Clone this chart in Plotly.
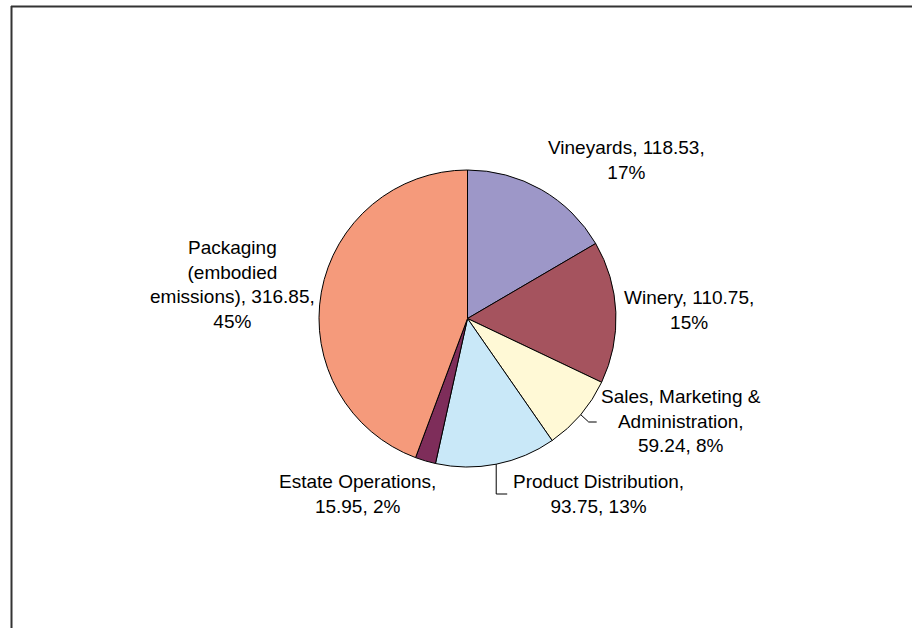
import math
import plotly.graph_objects as go

categories = ["Vineyards", "Winery", "Sales, Marketing & Administration",
              "Product Distribution", "Estate Operations", "Packaging (embodied emissions)"]
values = [118.53, 110.75, 59.24, 93.75, 15.95, 316.85]
pct_labels = ["17%", "15%", "8%", "13%", "2%", "45%"]
label_texts = [
    "Vineyards, 118.53,<br>17%",
    "Winery, 110.75,<br>15%",
    "Sales, Marketing &<br>Administration,<br>59.24, 8%",
    "Product Distribution,<br>93.75, 13%",
    "Estate Operations,<br>15.95, 2%",
    "Packaging<br>(embodied<br>emissions), 316.85,<br>45%",
]
colors = ["#9D97C8", "#A5535E", "#FFF9D6", "#C9E8F8", "#7E2D5A", "#F59A7B"]

W, H = 912, 628
CX, CY, R = 467.5, 318.5, 148.5  # pie centre / radius in pixels

# label block centres (pixels)
label_pos = [(626, 160), (689, 310), (681, 421), (598, 494), (357, 494), (232, 284)]
# which labels have leader lines
leaders = {2: "elbow_h", 3: "elbow_v"}

fig = go.Figure()
fig.add_trace(go.Pie(
    labels=categories, values=values, sort=False, direction="clockwise",
    rotation=0, textinfo="none", hoverinfo="label+value+percent",
    marker=dict(colors=colors, line=dict(color="#000000", width=1)),
    domain=dict(x=[(CX - R) / W, (CX + R) / W],
                y=[(H - CY - R) / H, (H - CY + R) / H]),
    showlegend=False,
))

def px(x):
    return x / W

def py(y):
    return 1 - y / H

annotations = []
for txt, (lx, ly) in zip(label_texts, label_pos):
    annotations.append(dict(
        x=px(lx), y=py(ly), xref="paper", yref="paper", text=txt,
        showarrow=False, xanchor="center", yanchor="middle", align="center",
        font=dict(family="Liberation Sans, Arial, sans-serif", size=19, color="#000000"),
    ))

shapes = []
total = sum(values)
cum = 0.0
for i, v in enumerate(values):
    mid = (cum + v / 2) / total * 2 * math.pi
    cum += v
    if i not in leaders:
        continue
    sx = CX + R * math.sin(mid)
    sy = CY - R * math.cos(mid)
    lx, ly = label_pos[i]
    if leaders[i] == "elbow_h":
        p = [(sx, sy), (sx + 8, ly + 1), (sx + 16, ly + 1)]
    else:
        p = [(sx, sy), (sx, ly), (sx + 11, ly)]
    path = "M {} {}".format(px(p[0][0]), py(p[0][1]))
    for q in p[1:]:
        path += " L {} {}".format(px(q[0]), py(q[1]))
    shapes.append(dict(type="path", xref="paper", yref="paper", path=path,
                       line=dict(color="#000000", width=1)))

# chart-area frame (top and left edges visible)
shapes.append(dict(type="line", xref="paper", yref="paper",
                   x0=px(11), y0=py(6.5), x1=1.0, y1=py(6.5),
                   line=dict(color="#333333", width=2)))
shapes.append(dict(type="line", xref="paper", yref="paper",
                   x0=px(11.5), y0=py(6), x1=px(11.5), y1=0.0,
                   line=dict(color="#333333", width=2)))

fig.update_layout(
    width=W, height=H, margin=dict(l=0, r=0, t=0, b=0),
    paper_bgcolor="#FFFFFF", plot_bgcolor="#FFFFFF",
    annotations=annotations, shapes=shapes,
)
fig.write_html("out.html", config={"displayModeBar": False},
               post_script="document.body.style.margin='0';document.body.style.overflow='hidden';")
